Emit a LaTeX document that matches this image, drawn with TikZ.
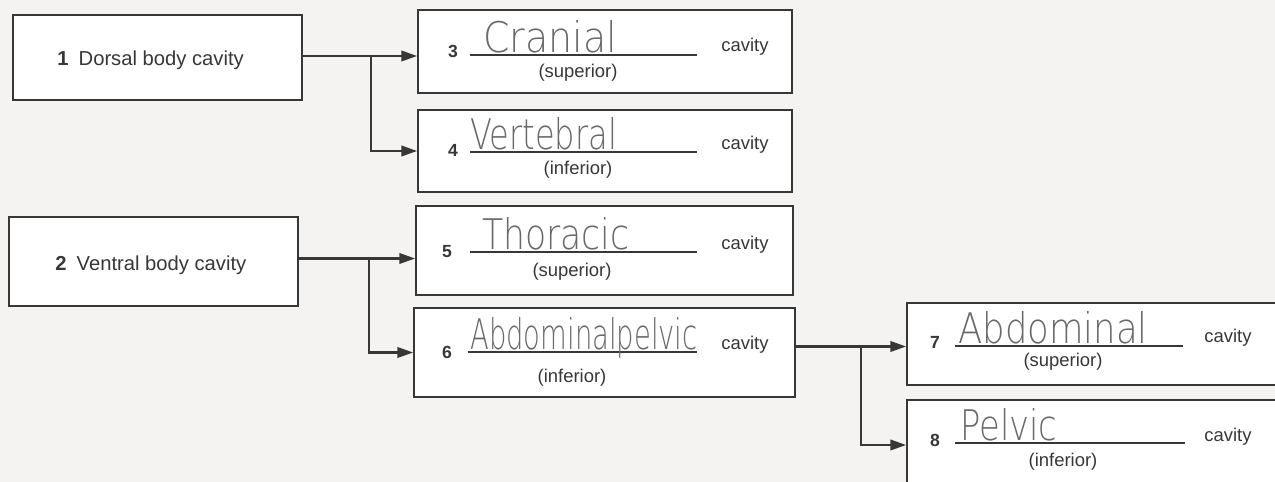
\documentclass[tikz,border=0pt]{standalone}
\usepackage{fontspec}
\usepackage{graphicx}
\setmainfont{Liberation Sans}
\newfontfamily\handfont{DejaVu Sans ExtraLight}
\usetikzlibrary{arrows.meta}
\definecolor{ink}{RGB}{55,55,55}
\definecolor{pencil}{RGB}{105,105,105}
\definecolor{paper}{RGB}{244,243,241}
\tikzset{
  box/.style={draw=ink, line width=1pt, fill=white, inner sep=0pt},
  conn/.style={draw=ink, line width=1.2pt, -{Triangle[length=9pt,width=6pt]}},
  num/.style={font=\fontsize{10}{12}\selectfont\bfseries, text=ink, inner sep=0pt},
  word/.style={font=\fontsize{10.5}{12}\selectfont, text=ink, inner sep=0pt},
  bigword/.style={font=\fontsize{11.5}{13}\selectfont, text=ink, inner sep=0pt, anchor=west},
  hand/.style={font=\handfont\fontsize{24}{26}\selectfont, text=pencil, inner sep=0pt, anchor=base west, text depth=0pt},
  blank/.style={draw=ink, line width=0.7pt},
}
\newcommand{\hw}[2]{\scalebox{#1}[1]{#2}}
\begin{document}
\begin{tikzpicture}[x=0.02cm,y=-0.02cm]
\useasboundingbox (0,0) rectangle (1275,482);
\fill[paper] (0,0) rectangle (1275,482);
% boxes
\node[box, minimum width={289*0.02cm}, minimum height={85*0.02cm}] (b1) at (157.5,57.5) {};
\node[box, minimum width={289*0.02cm}, minimum height={89*0.02cm}] (b2) at (153.5,261.5) {};
\node[box, minimum width={374*0.02cm}, minimum height={83*0.02cm}] (b3) at (605,51.5) {};
\node[box, minimum width={374*0.02cm}, minimum height={82*0.02cm}] (b4) at (605,151) {};
\node[box, minimum width={377*0.02cm}, minimum height={89*0.02cm}] (b5) at (604.5,250.5) {};
\node[box, minimum width={381*0.02cm}, minimum height={89*0.02cm}] (b6) at (604.5,352.5) {};
\node[box, minimum width={383*0.02cm}, minimum height={82*0.02cm}] (b7) at (1098.5,344) {};
\node[box, minimum width={383*0.02cm}, minimum height={90*0.02cm}] (b8) at (1098.5,445) {};
% left box labels
\node[bigword] (t1) at (57,60) {\textbf{1}\enspace Dorsal body cavity};
\node[bigword] (t2) at (55,265) {\textbf{2}\enspace Ventral body cavity};
% connectors
\path (b1.east) ++(68,-1.5) coordinate (j1);
\path (b1.east) ++(0,-1.5) coordinate (s1);
\draw[conn] (s1) -- (s1 -| b3.west);
\draw[conn] (j1) |- (b4.west);
\path (b2.east) ++(70,-3) coordinate (j2);
\path (b2.east) ++(0,-3) coordinate (s2);
\draw[conn] (s2) -- (s2 -| b5.west);
\draw[conn] (j2) |- (b6.west);
\path (b6.east) ++(65,-6) coordinate (j3);
\path (b6.east) ++(0,-6) coordinate (s6);
\draw[conn] (s6) -- (s6 -| b7.west);
\draw[conn] (j3) |- (b8.west);
% box 3
\node[num] (n3) at (453,51) {3};
\coordinate (l3a) at (470,55); \coordinate (l3b) at (697,55);
\draw[blank] (l3a) -- (l3b);
\node[hand] (h3) at (483,53) {\hw{0.9}{Cranial}};
\node[word] (c3) at (745,47) {cavity};
\node[word] (s3) at (578,73) {(superior)};
% box 4
\node[num] (n4) at (453,150) {4};
\coordinate (l4a) at (470,152); \coordinate (l4b) at (697,152);
\draw[blank] (l4a) -- (l4b);
\node[hand] (h4) at (470,150) {\hw{0.76}{Vertebral}};
\node[word] (c4) at (745,145) {cavity};
\node[word] (s4) at (578,170) {(inferior)};
% box 5
\node[num] (n5) at (447,252) {5};
\coordinate (l5a) at (470,252); \coordinate (l5b) at (697,252);
\draw[blank] (l5a) -- (l5b);
\node[hand] (h5) at (482,250) {\hw{0.82}{Thoracic}};
\node[word] (c5) at (745,245) {cavity};
\node[word] (s5) at (572,272) {(superior)};
% box 6
\node[num] (n6) at (447,352) {6};
\coordinate (l6a) at (468,352); \coordinate (l6b) at (697,352);
\draw[blank] (l6a) -- (l6b);
\node[hand] (h6) at (470,350) {\hw{0.65}{Abdominalpelvic}};
\node[word] (c6) at (745,345) {cavity};
\node[word] (s6t) at (572,378) {(inferior)};
% box 7
\node[num] (n7) at (935,342) {7};
\coordinate (l7a) at (955,346); \coordinate (l7b) at (1183,346);
\draw[blank] (l7a) -- (l7b);
\node[hand] (h7) at (958,344) {\hw{0.84}{Abdominal}};
\node[word] (c7) at (1228,338) {cavity};
\node[word] (s7) at (1063,362) {(superior)};
% box 8
\node[num] (n8) at (935,440) {8};
\coordinate (l8a) at (955,443); \coordinate (l8b) at (1185,443);
\draw[blank] (l8a) -- (l8b);
\node[hand] (h8) at (960,441) {\hw{0.8}{Pelvic}};
\node[word] (c8) at (1228,437) {cavity};
\node[word] (s8) at (1063,462) {(inferior)};
\end{tikzpicture}
\end{document}
